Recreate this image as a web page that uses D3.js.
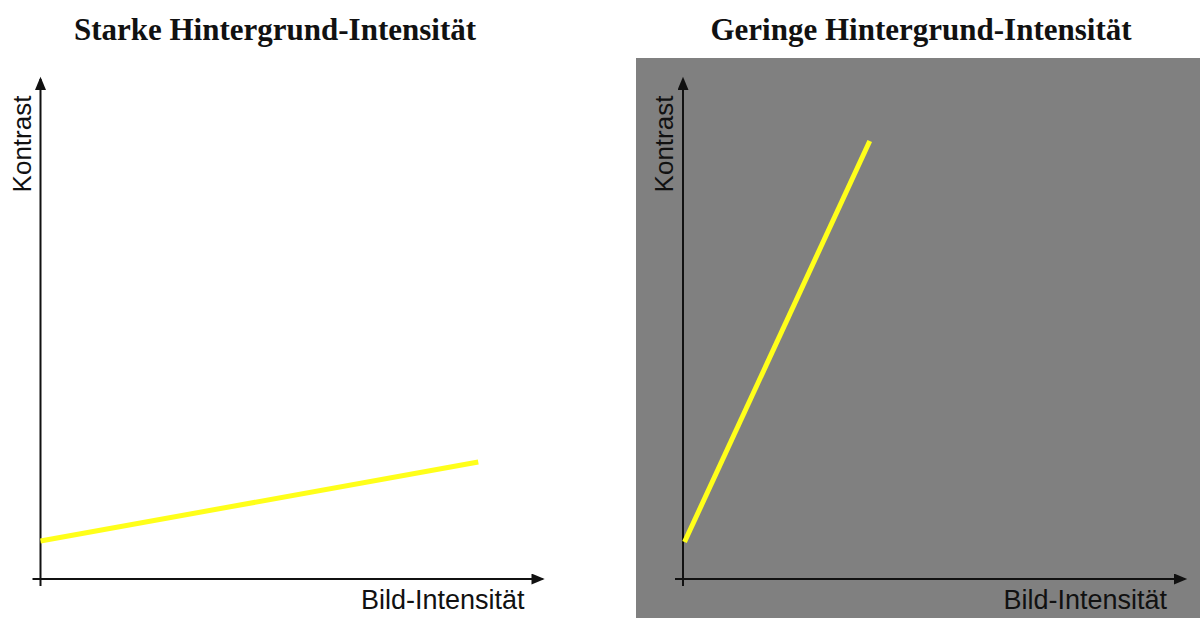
<!DOCTYPE html>
<html>
<head>
<meta charset="utf-8">
<script src="https://cdn.jsdelivr.net/npm/d3@7"></script>
<style>
  body { margin: 0; background: #fff; }
  svg { display: block; }
</style>
</head>
<body>
<div id="chart"></div>
<script>
// panel data
var titles = ["Starke Hintergrund-Intensität", "Geringe Hintergrund-Intensität"];
var intensityStrong = [0, 87.2];
var contrastStrong = [7.6, 23.4];
var intensityWeak = [0.3, 37.2];
var contrastWeak = [7.4, 87.6];
var xLabel = "Bild-Intensität";
var yLabel = "Kontrast";

var width = 1200, height = 618;

var svg = d3.select("#chart").append("svg")
    .attr("width", width)
    .attr("height", height);

svg.append("defs").append("marker")
    .attr("id", "arrow")
    .attr("viewBox", "0 -5 12 10")
    .attr("refX", 10)
    .attr("refY", 0)
    .attr("orient", "auto")
    .attr("markerUnits", "userSpaceOnUse")
    .attr("markerWidth", 14)
    .attr("markerHeight", 11)
  .append("path")
    .attr("d", "M0,-5 L12,0 L0,5 Z")
    .attr("fill", "#111");

// gray background for the second panel
svg.append("rect")
    .attr("x", 636).attr("y", 58)
    .attr("width", width - 636).attr("height", height - 58)
    .attr("fill", "#808080");

var panels = [
  {title: titles[0], tx: 275, ox: 40.5, xs: intensityStrong, ys: contrastStrong},
  {title: titles[1], tx: 921, ox: 683, xs: intensityWeak, ys: contrastWeak}
];

panels.forEach(function(p) {
  var x = d3.scaleLinear().domain([0, 100]).range([p.ox, p.ox + 502]);
  var y = d3.scaleLinear().domain([0, 100]).range([579, 79]);
  var g = svg.append("g");

  g.append("text")
      .attr("x", p.tx).attr("y", 40)
      .attr("text-anchor", "middle")
      .style("font-family", "'Liberation Serif', 'DejaVu Serif', serif")
      .style("font-weight", "bold")
      .style("font-size", "31px")
      .attr("fill", "#111")
      .text(p.title);

  // x axis
  g.append("line")
      .attr("x1", p.ox - 8).attr("y1", y(0))
      .attr("x2", x(100)).attr("y2", y(0))
      .attr("stroke", "#111").attr("stroke-width", 2)
      .attr("marker-end", "url(#arrow)");
  // y axis
  g.append("line")
      .attr("x1", x(0)).attr("y1", y(0) + 7)
      .attr("x2", x(0)).attr("y2", y(100))
      .attr("stroke", "#111").attr("stroke-width", 2)
      .attr("marker-end", "url(#arrow)");

  g.append("text")
      .attr("x", p.ox + 484).attr("y", 609)
      .attr("text-anchor", "end")
      .style("font-family", "'Liberation Sans', Arial, sans-serif")
      .style("font-size", "27px")
      .attr("fill", "#111")
      .text(xLabel);

  g.append("text")
      .attr("transform", "translate(" + (p.ox - 10) + ",144) rotate(-90)")
      .attr("text-anchor", "middle")
      .style("font-family", "'Liberation Sans', Arial, sans-serif")
      .style("font-size", "26px")
      .attr("fill", "#111")
      .text(yLabel);

  var pts = p.xs.map(function(v, i) { return [v, p.ys[i]]; });
  g.append("path")
      .datum(pts)
      .attr("fill", "none")
      .attr("stroke", "#ffff1a")
      .attr("stroke-width", 5)
      .attr("d", d3.line().x(function(d) { return x(d[0]); }).y(function(d) { return y(d[1]); }));
});
</script>
</body>
</html>
